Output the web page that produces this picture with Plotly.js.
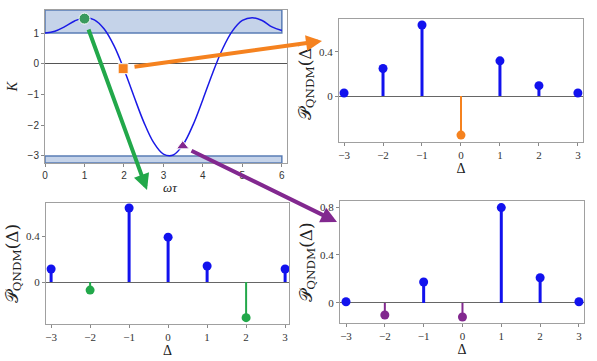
<!DOCTYPE html>
<html>
<head>
<meta charset="utf-8">
<script src="https://cdn.plot.ly/plotly-3.0.1.min.js"></script>
<style>
  body { margin: 0; background: #fff; }
  #chart { width: 597px; height: 361px; }
</style>
</head>
<body>
<div id="chart"></div>
<script>
// K(omega tau)
const omegaTau = [0, 0.25, 0.5, 0.75, 1, 1.25, 1.5, 1.75, 2, 2.25, 2.5, 2.75, 3,
  3.25, 3.5, 3.75, 4, 4.25, 4.5, 4.75, 5, 5.25, 5.5, 5.75, 6];
const kValues = [1, 1.06, 1.21, 1.39, 1.5, 1.43, 1.13, 0.58, -0.18, -1.05, -1.89, -2.56, -2.94,
  -2.97, -2.63, -1.99, -1.16, -0.29, 0.49, 1.07, 1.41, 1.5, 1.41, 1.2, 1.08];

// picked points on the curve
const pickX = [1, 1.98, 3.49];
const pickK = [1.47, -0.16, -2.68];

// stem plots
const delta = [-3, -2, -1, 0, 1, 2, 3];
const pOrange = [0.027, 0.25, 0.645, -0.355, 0.32, 0.094, 0.027];
const pGreen = [0.113, -0.07, 0.643, 0.39, 0.139, -0.31, 0.113];
const pPurple = [0.01, -0.10, 0.175, -0.117, 0.795, 0.21, 0.01];

const blue = "rgb(18,18,238)";
const orange = "#f5821f";
const green = "#22a84a";
const purple = "#82288f";

function stemTraces(xs, ys, xa, ya, negColor) {
  const traces = [];
  const groups = [
    { keep: (v) => v >= 0, color: blue, w: 3 },
    { keep: (v) => v < 0, color: negColor, w: 2 },
  ];
  groups.map((g) => {
    const lx = [];
    const ly = [];
    const mx = [];
    const my = [];
    xs.map((x, i) => {
      if (!g.keep(ys[i])) return;
      lx.push(x, x, null);
      ly.push(0, ys[i], null);
      mx.push(x);
      my.push(ys[i]);
    });
    traces.push({
      x: lx, y: ly, xaxis: xa, yaxis: ya, mode: "lines",
      line: { color: g.color, width: g.w }, hoverinfo: "skip",
    });
    traces.push({
      x: mx, y: my, xaxis: xa, yaxis: ya, mode: "markers",
      marker: { color: g.color, size: 9 }, hoverinfo: "skip",
    });
  });
  return traces;
}

const curve = {
  x: omegaTau, y: kValues, mode: "lines", line: { color: "#1a1ae6", width: 1.5, shape: "spline" },
  xaxis: "x", yaxis: "y",
};
const picks = {
  x: pickX, y: pickK, mode: "markers", xaxis: "x", yaxis: "y", opacity: 1,
  marker: { color: ["#3a9a5e", orange, purple], symbol: ["circle", "square", "triangle-up"],
    size: [11, 10, 11], opacity: 1 },
};

const graphData = [curve, picks]
  .concat(stemTraces(delta, pOrange, "x2", "y2", orange))
  .concat(stemTraces(delta, pGreen, "x3", "y3", green))
  .concat(stemTraces(delta, pPurple, "x4", "y4", purple));

const frame = {
  showline: true, mirror: true, linecolor: "#a0a0a0", linewidth: 1,
  ticks: "outside", ticklen: 3, tickcolor: "#888", showgrid: false,
  zeroline: false, tickfont: { family: "Liberation Serif", size: 11, color: "#333" },
};
const stemY = Object.assign({}, frame, {
  zeroline: true, zerolinecolor: "#666", zerolinewidth: 1,
  title: { text: "𝒫<sub>QNDM</sub>(Δ)", font: { family: "DejaVu Serif", size: 17, color: "#222" }, standoff: 3 },
});
const stemX = Object.assign({}, frame, {
  tickvals: delta,
  title: { text: "Δ", font: { family: "Liberation Serif", size: 14, color: "#222" }, standoff: 0 },
});

const layout = {
  width: 597, height: 361,
  margin: { l: 0, r: 0, t: 0, b: 0 },
  paper_bgcolor: "#fff", plot_bgcolor: "#fff",
  showlegend: false,
  xaxis: Object.assign({}, frame, {
    domain: [0.0754, 0.4807], range: [0, 6.13], anchor: "y", dtick: 1,
    tickfont: { family: "Liberation Sans", size: 10, color: "#333" },
  }),
  yaxis: Object.assign({}, frame, {
    domain: [0.5485, 0.9723], range: [-3.23, 1.75], anchor: "x", dtick: 1,
    zeroline: true, zerolinecolor: "#555", zerolinewidth: 1,
    tickfont: { family: "Liberation Sans", size: 10, color: "#333" },
    title: { text: "<i>K</i>", font: { family: "Liberation Serif", size: 14, color: "#222" }, standoff: 6 },
  }),
  xaxis2: Object.assign({}, stemX, { domain: [0.5678, 0.9765], range: [-3.13, 3.13], anchor: "y2" }),
  yaxis2: Object.assign({}, stemY, { domain: [0.6066, 0.9474], range: [-0.418, 0.70], anchor: "x2", tickvals: [0, 0.4] }),
  xaxis3: Object.assign({}, stemX, { domain: [0.0771, 0.4841], range: [-3.13, 3.10], anchor: "y3" }),
  yaxis3: Object.assign({}, stemY, { domain: [0.1025, 0.4377], range: [-0.365, 0.687], anchor: "x3", tickvals: [0, 0.4] }),
  xaxis4: Object.assign({}, stemX, { domain: [0.5695, 0.9782], range: [-3.155, 3.13], anchor: "y4" }),
  yaxis4: Object.assign({}, stemY, { domain: [0.1053, 0.4432], range: [-0.167, 0.85], anchor: "x4", tickvals: [0, 0.4, 0.8] }),
  shapes: [
    { type: "rect", xref: "x", yref: "y", x0: 0, x1: 6, y0: 1, y1: 1.75, layer: "below",
      fillcolor: "rgba(150,175,215,0.55)", line: { color: "#5a7db5", width: 1.5 } },
    { type: "rect", xref: "x", yref: "y", x0: 0, x1: 6, y0: -3.23, y1: -3, layer: "below",
      fillcolor: "rgba(150,175,215,0.55)", line: { color: "#5a7db5", width: 1.5 } },
  ],
  annotations: [
    { xref: "paper", yref: "paper", x: 161 / 597, y: 1 - 187 / 361, text: "<i>ωτ</i>", showarrow: false,
      font: { family: "Liberation Serif", size: 13, color: "#222" } },
    { xref: "paper", yref: "paper", x: 147 / 597, y: 1 - 190 / 361, ax: -59, ay: -162, text: "",
      showarrow: true, arrowcolor: green, arrowwidth: 4, arrowhead: 2, arrowsize: 0.8, standoff: 0 },
    { xref: "paper", yref: "paper", x: 322 / 597, y: 1 - 41 / 361, ax: -189, ay: 26, text: "",
      showarrow: true, arrowcolor: orange, arrowwidth: 4, arrowhead: 2, arrowsize: 0.8, standoff: 0 },
    { xref: "paper", yref: "paper", x: 337 / 597, y: 1 - 222 / 361, ax: -147, ay: -72, text: "",
      showarrow: true, arrowcolor: purple, arrowwidth: 4, arrowhead: 2, arrowsize: 0.8, standoff: 0 },
  ],
};

Plotly.newPlot("chart", graphData, layout, { staticPlot: true });
</script>
</body>
</html>
